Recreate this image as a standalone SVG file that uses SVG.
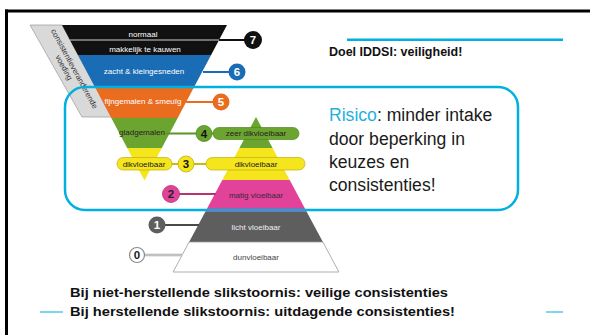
<svg xmlns="http://www.w3.org/2000/svg" width="590" height="335" viewBox="0 0 590 335">
<style>
.lbl{font-family:"Liberation Sans",Arial,sans-serif;font-size:8px;text-anchor:middle}
.w{fill:#ffffff}
.d{fill:#222222}
.num{font-family:"Liberation Sans",Arial,sans-serif;font-size:11.5px;font-weight:bold;text-anchor:middle}
.conn{fill:none;stroke-width:2}
.big{font-family:"Liberation Sans",Arial,sans-serif;font-size:17.6px;fill:#1a1a1a}
.bold{font-family:"Liberation Sans",Arial,sans-serif;font-weight:bold;fill:#111111}
</style>
<rect x="0" y="0" width="590" height="335" fill="#ffffff"/>
<g id="frame">
<rect x="5" y="9.5" width="585" height="3" fill="#000000"/>
<rect x="5" y="9.5" width="3" height="326" fill="#000000"/>
<rect x="347" y="38.5" width="216" height="2.5" fill="#00b0e0"/>
<rect x="40" y="311.5" width="23" height="1" fill="#00b0e0"/>
<rect x="546" y="311.5" width="17" height="1" fill="#00b0e0"/>
</g>

<g id="side-band">
<polygon points="30,25 62,25 112,117 82,117" fill="#d9d9d9" stroke="#9a9a9a" stroke-width="0.7"/>
<g transform="translate(72,70) rotate(61.5)" font-family="'Liberation Sans',Arial,sans-serif" font-size="7.8" fill="#333333" text-anchor="middle">
<text x="0" y="0">consistentieveranderende</text>
<text x="-6" y="8.5">voeding</text>
</g>
</g>

<g id="funnel">
<polygon points="62,25 227,25 211.1,55 77.9,55" fill="#111111"/>
<line x1="70" y1="40" x2="219" y2="40" stroke="#d0d0d0" stroke-width="1"/>
<polygon points="77.9,55 211.1,55 194.1,87 94.9,87" fill="#1a6db4"/>
<polygon points="94.9,87 194.1,87 177.7,118 111.3,118" fill="#ea6d1f"/>
<polygon points="111.3,118 177.7,118 161.8,148 127.2,148" fill="#6ca430"/>
<polygon points="127.2,148 161.8,148 144.5,180.5" fill="#f4e51c"/>
<text class="lbl w" x="143" y="36.5">normaal</text>
<text class="lbl w" x="145" y="51.5">makkelijk te kauwen</text>
<text class="lbl w" x="144" y="74">zacht &amp; kleingesneden</text>
<text class="lbl w" x="143" y="104">fijngemalen &amp; smeuïg</text>
<text class="lbl d" x="142" y="135">gladgemalen</text>
</g>

<g id="pyramid">
<polygon points="256,117 272.6,148 239.4,148" fill="#6ca430"/>
<polygon points="239.4,148 272.6,148 289.7,180 222.3,180" fill="#f4e51c"/>
<polygon points="222.3,180 289.7,180 306.8,212 205.2,212" fill="#e2439a"/>
<polygon points="205.2,212 306.8,212 322.9,242 189.1,242" fill="#5e5e5e"/>
<polygon points="189.1,242 322.9,242 338.9,272 173.1,272" fill="#ffffff" stroke="#9a9a9a" stroke-width="0.8"/>
<text class="lbl" x="256" y="198" fill="#3a2a35">matig vloeibaar</text>
<text class="lbl" x="256" y="229.5" fill="#eeeeee">licht vloeibaar</text>
<text class="lbl" x="256" y="259.5" fill="#444444">dunvloeibaar</text>
</g>

<g id="connectors">
<line class="conn" x1="219" y1="40" x2="246" y2="40" stroke="#111111"/>
<line class="conn" x1="203" y1="72" x2="230" y2="72" stroke="#1a6db4"/>
<line class="conn" x1="186" y1="102" x2="214" y2="102" stroke="#ea6d1f"/>
<line class="conn" x1="166" y1="133.5" x2="214" y2="133.5" stroke="#5c9328"/>
<line class="conn" x1="171" y1="164" x2="207" y2="164" stroke="#c9bb10"/>
<line class="conn" x1="178" y1="194" x2="216" y2="194" stroke="#b8336f"/>
<line class="conn" x1="162" y1="225" x2="199" y2="225" stroke="#4a4a4a"/>
<line x1="143" y1="255" x2="182" y2="255" stroke="#a8a8a8" stroke-width="2.5"/>
<line x1="143" y1="255" x2="182" y2="255" stroke="#e6e6e6" stroke-width="0.8"/>
</g>

<g id="pill-zeer-dikvloeibaar">
<rect x="213" y="127.5" width="86" height="12" rx="6" fill="#6ca430" stroke="#4f8a22" stroke-width="0.7"/>
<text class="lbl d" x="256" y="136.3">zeer dikvloeibaar</text>
</g>
<g id="pill-dikvloeibaar-funnel">
<rect x="117" y="157.5" width="55" height="12.5" rx="6.2" fill="#f4e51c" stroke="#bfae10" stroke-width="0.7"/>
<text class="lbl d" x="144" y="166.8">dikvloeibaar</text>
</g>
<g id="pill-dikvloeibaar-pyramid">
<rect x="206" y="157.5" width="99" height="12.5" rx="6.2" fill="#f4e51c" stroke="#bfae10" stroke-width="0.7"/>
<text class="lbl d" x="256" y="166.8">dikvloeibaar</text>
</g>

<g id="n7"><circle cx="253" cy="40" r="9" fill="#111111"/><text class="num" x="253" y="44" fill="#ffffff">7</text></g>
<g id="n6"><circle cx="237" cy="72" r="8.5" fill="#1a6db4"/><text class="num" x="237" y="76" fill="#ffffff">6</text></g>
<g id="n5"><circle cx="221" cy="102" r="8.5" fill="#ea6d1f"/><text class="num" x="221" y="106" fill="#ffffff">5</text></g>
<g id="n4"><circle cx="204" cy="133.5" r="8" fill="#6ca430" stroke="#4f8a22" stroke-width="0.8"/><text class="num" x="204" y="137.5" fill="#111111">4</text></g>
<g id="n3"><circle cx="186" cy="164" r="8" fill="#f4e51c" stroke="#bfae10" stroke-width="0.8"/><text class="num" x="186" y="168" fill="#111111">3</text></g>
<g id="n2"><circle cx="171" cy="194" r="8.5" fill="#e2439a" stroke="#b8336f" stroke-width="0.8"/><text class="num" x="171" y="198" fill="#222222">2</text></g>
<g id="n1"><circle cx="157" cy="225" r="8.5" fill="#5e5e5e"/><text class="num" x="157" y="229" fill="#ffffff">1</text></g>
<g id="n0"><circle cx="137" cy="255" r="7.5" fill="#ffffff" stroke="#8a8a8a" stroke-width="1.2"/><text class="num" x="137" y="259" fill="#222222">0</text></g>

<g id="risk-box">
<rect x="65" y="87" width="453" height="123" rx="20" fill="none" stroke="#00b0e0" stroke-width="2.5"/>
<text class="big" x="329" y="121"><tspan fill="#1fb0e0">Risico</tspan>: minder intake</text>
<text class="big" x="329" y="144.5">door beperking in</text>
<text class="big" x="329" y="168">keuzes en</text>
<text class="big" x="329" y="191">consistenties!</text>
</g>

<g id="goal">
<text class="bold" x="329" y="56" font-size="12.5">Doel IDDSI: veiligheid!</text>
</g>

<g id="notes">
<text class="bold" x="70" y="297" font-size="13.5" textLength="378" lengthAdjust="spacingAndGlyphs">Bij niet-herstellende slikstoornis: veilige consistenties</text>
<text class="bold" x="70" y="316" font-size="13.5" textLength="385" lengthAdjust="spacingAndGlyphs">Bij herstellende slikstoornis: uitdagende consistenties!</text>
</g>
</svg>
